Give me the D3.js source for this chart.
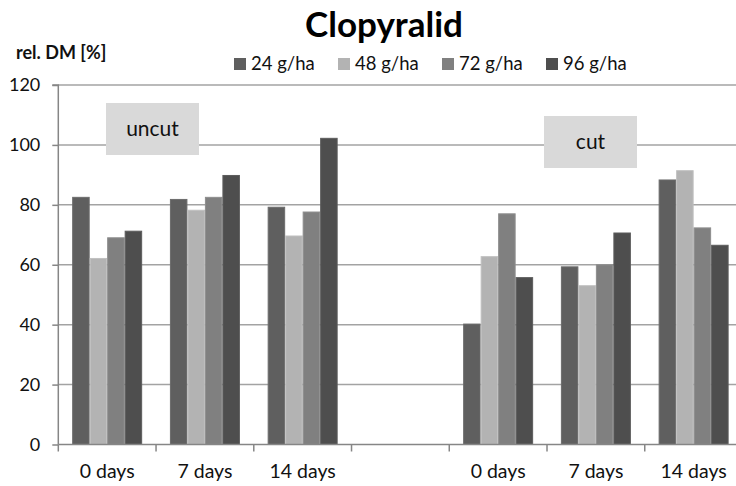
<!DOCTYPE html>
<html>
<head>
<meta charset="utf-8">
<script src="https://cdn.jsdelivr.net/npm/d3@7"></script>
<style>
  html, body { margin: 0; padding: 0; background: #fff; }
  svg { display: block; font-family: Lato, "Open Sans", sans-serif; }
</style>
</head>
<body>
<svg id="chart" width="736" height="486"></svg>
<script>
// ---- data ----
const categories = ["0 days", "7 days", "14 days", "", "0 days", "7 days", "14 days"];
const seriesNames = ["24 g/ha", "48 g/ha", "72 g/ha", "96 g/ha"];
const s24 = [82.5, 81.8, 79.2, null, 40.2, 59.3, 88.3];
const s48 = [62.1, 78.2, 69.6, null, 62.7, 53.0, 91.4];
const s72 = [69.0, 82.5, 77.6, null, 77.0, 60.0, 72.3];
const s96 = [71.2, 89.8, 102.2, null, 55.7, 70.6, 66.5];
const yTicks = [0, 20, 40, 60, 80, 100, 120];
const groupLabels = ["uncut", "cut"];
const title = "Clopyralid";
const yTitle = "rel. DM [%]";

// ---- style ----
const colors = ["#5f5f5f", "#b3b3b3", "#808080", "#4e4e4e"];
const strokes = ["#6c6c6c", "#c0c0c0", "#8e8e8e", "#5c5c5c"];
const series = [s24, s48, s72, s96];

const svg = d3.select("#chart");
const plot = { left: 58.3, top: 85, bottom: 444.5, right: 742.5 };

const x0 = d3.scaleBand().domain(d3.range(categories.length)).range([plot.left, plot.right]).padding(0);
const bw = x0.bandwidth();
const gap = bw * 0.284;
const x1 = d3.scaleBand().domain(d3.range(seriesNames.length)).range([gap / 2, bw - gap / 2]).padding(0);
const y = d3.scaleLinear().domain([0, 120]).range([plot.bottom, plot.top]);

// gridlines
svg.append("g").selectAll("line").data(yTicks.filter(d => d > 0)).join("line")
  .attr("x1", plot.left).attr("x2", plot.right)
  .attr("y1", d => y(d)).attr("y2", d => y(d))
  .attr("stroke", "#a3a3a3").attr("stroke-width", 1.5);

// annotation boxes (behind bars)
const boxes = [
  { label: groupLabels[0], cx: 152.5, cy: 129, w: 93, h: 52 },
  { label: groupLabels[1], cx: 590.5, cy: 142, w: 93, h: 52 }
];
const bg = svg.append("g");
boxes.forEach(b => {
  bg.append("rect").attr("x", b.cx - b.w / 2).attr("y", b.cy - b.h / 2)
    .attr("width", b.w).attr("height", b.h).attr("fill", "#d9d9d9");
  bg.append("text").attr("x", b.cx).attr("y", b.cy).attr("dy", "0.33em")
    .attr("text-anchor", "middle").attr("font-size", 21).attr("fill", "#111")
    .text(b.label);
});

// bars
const gBars = svg.append("g");
categories.forEach((c, ci) => {
  series.forEach((s, si) => {
    const v = s[ci];
    if (v == null) return;
    gBars.append("rect")
      .attr("x", x0(ci) + x1(si) + 0.5)
      .attr("y", y(v))
      .attr("width", x1.bandwidth() - 1)
      .attr("height", y(0) - y(v))
      .attr("fill", colors[si])
      .attr("stroke", strokes[si]).attr("stroke-width", 1);
  });
});

// y axis
const yAxis = d3.axisLeft(y).tickValues(yTicks).tickSize(6).tickPadding(12);
const gy = svg.append("g").attr("transform", `translate(${plot.left},0)`).call(yAxis);
gy.select(".domain").attr("stroke", "#868686").attr("stroke-width", 1.5).attr("d", `M-6,${plot.top}H0V${plot.bottom}`);
gy.selectAll(".tick line").attr("stroke", "#868686").attr("stroke-width", 1.5);
gy.selectAll(".tick text").attr("font-size", 18).attr("fill", "#111").attr("font-family", "Lato, sans-serif");

// x axis
const xAxisLine = svg.append("g");
xAxisLine.append("line").attr("x1", plot.left).attr("x2", plot.right)
  .attr("y1", y(0)).attr("y2", y(0)).attr("stroke", "#868686").attr("stroke-width", 1.5);
xAxisLine.selectAll("line.tk").data(d3.range(categories.length + 1)).join("line").attr("class", "tk")
  .attr("x1", i => plot.left + i * bw).attr("x2", i => plot.left + i * bw)
  .attr("y1", y(0)).attr("y2", y(0) + 7)
  .attr("stroke", "#868686").attr("stroke-width", 1.5);
xAxisLine.selectAll("text").data(categories).join("text")
  .attr("x", (d, i) => x0(i) + bw / 2)
  .attr("y", 478)
  .attr("text-anchor", "middle").attr("font-size", 19.5).attr("fill", "#111")
  .text(d => d);

// title
svg.append("text").attr("x", 384).attr("y", 37).attr("text-anchor", "middle")
  .attr("font-size", 35).attr("font-weight", "bold").attr("fill", "#000").text(title);

// y title
svg.append("text").attr("x", 16).attr("y", 59).attr("font-size", 18)
  .attr("font-weight", "bold").attr("fill", "#111").text(yTitle);

// legend
const legend = svg.append("g");
seriesNames.forEach((n, i) => {
  const lx = 234 + i * 104;
  legend.append("rect").attr("x", lx).attr("y", 58).attr("width", 12).attr("height", 12)
    .attr("fill", colors[i]);
  legend.append("text").attr("x", lx + 17).attr("y", 70).attr("font-size", 18.5)
    .attr("fill", "#111").text(n);
});
</script>
</body>
</html>
